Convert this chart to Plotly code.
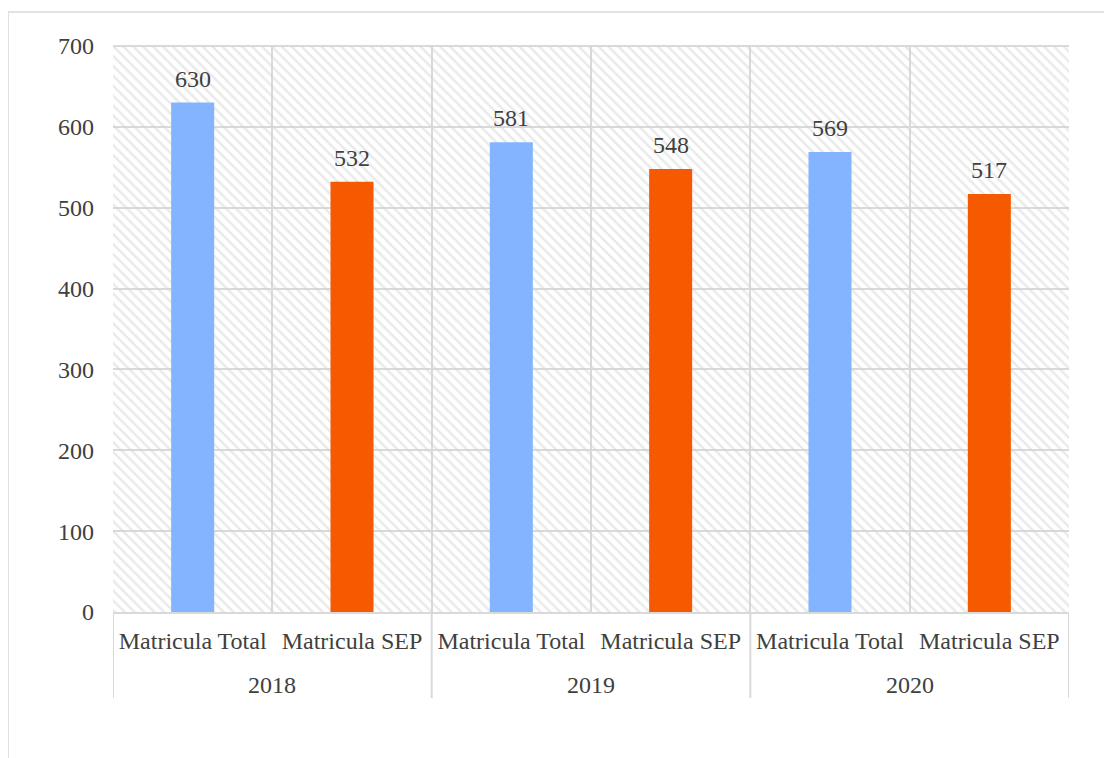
import plotly.graph_objects as go

years = ["2018", "2019", "2020"]
series_names = ["Matricula Total", "Matricula SEP"]
total_values = [630, 581, 569]
sep_values = [532, 548, 517]
colors = ["#84B4FF", "#F55A00"]

FONT = "Liberation Serif, Times New Roman, serif"
TXT = "#404040"
GRID = "#d9d9d9"
FS = 24

n_ser = len(series_names)
n_cat = len(years) * n_ser
positions = list(range(n_cat))
tick_text = [s for _ in years for s in series_names]

fig = go.Figure()

# hatched plot-area background
fig.add_trace(go.Bar(
    x=[(n_cat - 1) / 2], y=[700], width=n_cat,
    marker=dict(color="rgba(0,0,0,0)", line=dict(width=0),
                pattern=dict(shape="\\", fgcolor="#d4d4d4", bgcolor="rgba(0,0,0,0)",
                             size=7, solidity=0.35)),
    hoverinfo="skip", showlegend=False,
))

for j, (name, vals, col) in enumerate(zip(series_names, [total_values, sep_values], colors)):
    xs = [i * n_ser + j for i in range(len(years))]
    fig.add_trace(go.Bar(
        x=xs, y=vals, name=name, width=0.27,
        marker=dict(color=col, line=dict(width=0)),
        showlegend=False,
    ))
    for xv, v in zip(xs, vals):
        fig.add_annotation(x=xv, y=v, xref="x", yref="y", text=str(v), showarrow=False,
                           yanchor="bottom", yshift=9,
                           font=dict(family=FONT, size=FS, color=TXT))

fig.update_layout(
    width=1104, height=750,
    margin=dict(l=105, r=43, t=38, b=146),
    paper_bgcolor="white", plot_bgcolor="white",
    barmode="overlay",
    font=dict(family=FONT, size=FS, color=TXT),
    showlegend=False,
)
fig.update_xaxes(
    range=[-0.5, n_cat - 0.5], tickmode="array", tickvals=positions, ticktext=tick_text,
    showgrid=False, zeroline=False,
    minor=dict(tickmode="linear", tick0=-0.5, dtick=1, showgrid=True, gridcolor=GRID, gridwidth=2),
    showline=True, linecolor=GRID, linewidth=2, ticks="", ticklabelstandoff=6,
    tickfont=dict(family=FONT, size=FS, color=TXT),
)
fig.update_yaxes(
    range=[0, 700], dtick=100, showgrid=True, gridcolor=GRID, gridwidth=2,
    zeroline=False, showline=False, ticks="", ticklabelstandoff=18,
    tickfont=dict(family=FONT, size=FS, color=TXT),
)
# year group labels and dividers
for i, yr in enumerate(years):
    fig.add_annotation(x=i * n_ser + (n_ser - 1) / 2, xref="x", y=-0.129, yref="paper",
                       text=yr, showarrow=False, yanchor="middle",
                       font=dict(family=FONT, size=FS, color=TXT))
for k in range(len(years) + 1):
    xb = k * n_ser - 0.5
    fig.add_shape(type="line", xref="x", yref="paper", x0=xb, x1=xb, y0=0, y1=-0.152,
                  line=dict(color=GRID, width=2))
# top border of plot area and outer chart frame
fig.add_shape(type="line", xref="paper", yref="paper", x0=0, x1=1, y0=1, y1=1,
              line=dict(color=GRID, width=2), layer="above")
fig.add_shape(type="rect", xref="paper", yref="paper", x0=-0.1098, x1=1.2, y0=-0.4, y1=1.060,
              line=dict(color=GRID, width=1.5), layer="below")

fig.write_html("out.html")
